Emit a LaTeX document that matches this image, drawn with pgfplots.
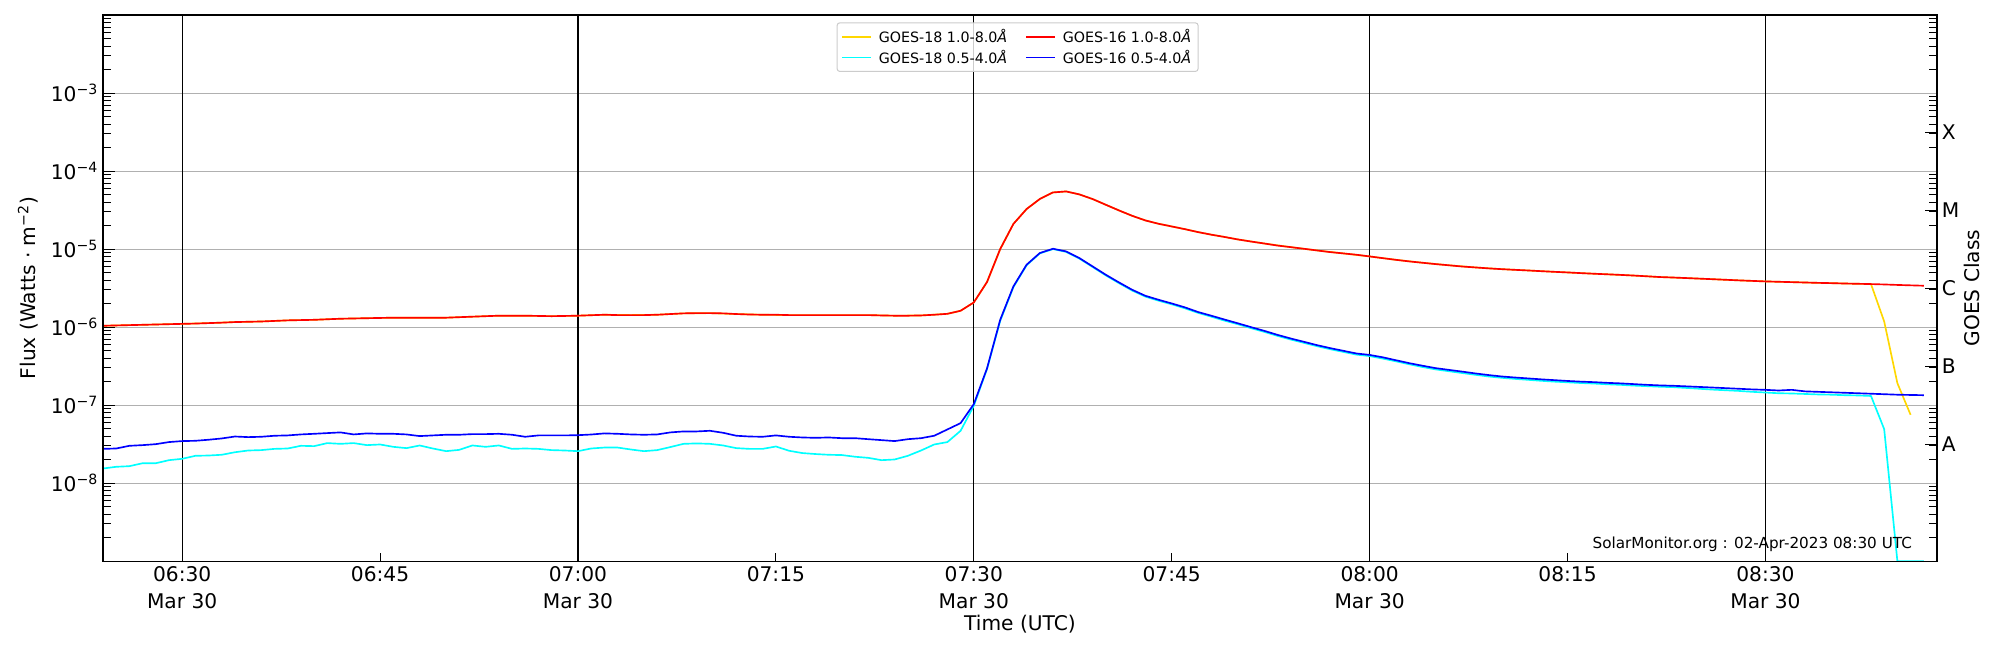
\documentclass[border=0pt]{standalone}
\usepackage{fontspec}
\setmainfont{DejaVu Sans}
\usepackage{pgfplots}
\usepackage{pgfplotstable}
\pgfplotsset{compat=1.18}
\definecolor{mplgold}{HTML}{FFD700}
\definecolor{mplcyan}{HTML}{00FFFF}
\definecolor{mplred}{HTML}{FF0000}
\definecolor{mplblue}{HTML}{0000FF}
\definecolor{gridgray}{HTML}{B0B0B0}
\definecolor{legendgray}{HTML}{CCCCCC}

% minutes after 06:00 UTC (30 Mar 2023), flux in W m^-2
\pgfplotstableread{
t f
24 1.04e-6
25 1.05e-6
26 1.06e-6
27 1.07e-6
28 1.08e-6
29 1.09e-6
30 1.10e-6
31 1.11e-6
32 1.125e-6
33 1.14e-6
34 1.16e-6
35 1.17e-6
36 1.18e-6
37 1.20e-6
38 1.22e-6
39 1.23e-6
40 1.24e-6
41 1.26e-6
42 1.28e-6
43 1.29e-6
44 1.30e-6
45 1.31e-6
46 1.32e-6
47 1.32e-6
48 1.32e-6
49 1.32e-6
50 1.32e-6
51 1.34e-6
52 1.36e-6
53 1.38e-6
54 1.40e-6
55 1.40e-6
56 1.40e-6
57 1.39e-6
58 1.38e-6
59 1.39e-6
60 1.40e-6
61 1.42e-6
62 1.44e-6
63 1.425e-6
64 1.425e-6
65 1.425e-6
66 1.44e-6
67 1.47e-6
68 1.50e-6
69 1.51e-6
70 1.51e-6
71 1.50e-6
72 1.47e-6
73 1.45e-6
74 1.44e-6
75 1.44e-6
76 1.425e-6
77 1.425e-6
78 1.425e-6
79 1.425e-6
80 1.425e-6
81 1.425e-6
82 1.425e-6
83 1.41e-6
84 1.40e-6
85 1.40e-6
86 1.41e-6
87 1.44e-6
88 1.48e-6
89 1.62e-6
90 2.07e-6
91 3.78e-6
92 1.00e-5
93 2.10e-5
94 3.26e-5
95 4.38e-5
96 5.32e-5
97 5.48e-5
98 5.02e-5
99 4.38e-5
100 3.70e-5
101 3.13e-5
102 2.67e-5
103 2.33e-5
104 2.11e-5
105 1.95e-5
106 1.80e-5
107 1.65e-5
108 1.53e-5
109 1.43e-5
110 1.33e-5
111 1.25e-5
112 1.18e-5
113 1.11e-5
114 1.06e-5
115 1.01e-5
116 9.61e-6
117 9.15e-6
118 8.80e-6
119 8.46e-6
120 8.05e-6
121 7.65e-6
122 7.28e-6
123 6.95e-6
124 6.68e-6
125 6.42e-6
126 6.20e-6
127 5.98e-6
128 5.82e-6
129 5.66e-6
130 5.53e-6
131 5.42e-6
132 5.32e-6
133 5.21e-6
134 5.11e-6
135 5.02e-6
136 4.92e-6
137 4.83e-6
138 4.75e-6
139 4.67e-6
140 4.58e-6
141 4.48e-6
142 4.38e-6
143 4.32e-6
144 4.25e-6
145 4.18e-6
146 4.11e-6
147 4.04e-6
148 3.97e-6
149 3.91e-6
150 3.85e-6
151 3.81e-6
152 3.77e-6
153 3.73e-6
154 3.69e-6
155 3.66e-6
156 3.62e-6
157 3.59e-6
158 3.56e-6
159 3.52e-6
160 3.47e-6
161 3.43e-6
162 3.39e-6
}\gsixteenlong

\pgfplotstableread{
t f
24 1.04e-6
26 1.06e-6
28 1.08e-6
30 1.10e-6
32 1.125e-6
34 1.16e-6
36 1.18e-6
38 1.22e-6
40 1.24e-6
42 1.28e-6
44 1.30e-6
46 1.32e-6
48 1.32e-6
50 1.32e-6
52 1.36e-6
54 1.40e-6
56 1.40e-6
58 1.38e-6
60 1.40e-6
62 1.44e-6
64 1.425e-6
66 1.44e-6
68 1.50e-6
70 1.51e-6
72 1.47e-6
74 1.44e-6
76 1.425e-6
78 1.425e-6
80 1.425e-6
82 1.425e-6
84 1.40e-6
86 1.41e-6
88 1.48e-6
89 1.62e-6
90 2.07e-6
91 3.78e-6
92 1.00e-5
93 2.10e-5
94 3.26e-5
95 4.38e-5
96 5.32e-5
97 5.48e-5
98 5.02e-5
99 4.38e-5
100 3.70e-5
101 3.13e-5
102 2.67e-5
103 2.33e-5
104 2.11e-5
105 1.95e-5
106 1.80e-5
107 1.65e-5
108 1.53e-5
109 1.43e-5
110 1.33e-5
112 1.18e-5
114 1.06e-5
116 9.61e-6
118 8.80e-6
120 8.05e-6
122 7.28e-6
124 6.68e-6
126 6.20e-6
128 5.82e-6
130 5.53e-6
132 5.32e-6
134 5.11e-6
136 4.92e-6
138 4.75e-6
140 4.58e-6
142 4.38e-6
144 4.25e-6
146 4.11e-6
148 3.97e-6
150 3.85e-6
152 3.77e-6
154 3.69e-6
156 3.62e-6
158 3.56e-6
159 1.18e-6
160 1.91e-7
161 7.52e-8
}\geighteenlong

\pgfplotstableread{
t f
24 2.75e-8
25 2.78e-8
26 3.01e-8
27 3.07e-8
28 3.16e-8
29 3.36e-8
30 3.46e-8
31 3.49e-8
32 3.60e-8
33 3.74e-8
34 3.96e-8
35 3.89e-8
36 3.93e-8
37 4.05e-8
38 4.09e-8
39 4.21e-8
40 4.29e-8
41 4.38e-8
42 4.47e-8
43 4.21e-8
44 4.34e-8
45 4.29e-8
46 4.29e-8
47 4.21e-8
48 4.01e-8
49 4.09e-8
50 4.17e-8
51 4.17e-8
52 4.25e-8
53 4.25e-8
54 4.29e-8
55 4.17e-8
56 3.93e-8
57 4.09e-8
58 4.09e-8
59 4.09e-8
60 4.12e-8
61 4.20e-8
62 4.34e-8
63 4.29e-8
64 4.21e-8
65 4.17e-8
66 4.21e-8
67 4.47e-8
68 4.60e-8
69 4.60e-8
70 4.69e-8
71 4.42e-8
72 4.05e-8
73 3.96e-8
74 3.93e-8
75 4.09e-8
76 3.93e-8
77 3.85e-8
78 3.81e-8
79 3.85e-8
80 3.77e-8
81 3.77e-8
82 3.66e-8
83 3.56e-8
84 3.46e-8
85 3.66e-8
86 3.77e-8
87 4.05e-8
88 4.88e-8
89 5.88e-8
90 1.03e-7
91 2.95e-7
92 1.24e-6
93 3.32e-6
94 6.30e-6
95 8.89e-6
96 1.01e-5
97 9.33e-6
98 7.67e-6
99 6.00e-6
100 4.69e-6
101 3.74e-6
102 3.01e-6
103 2.52e-6
104 2.24e-6
105 2.01e-6
106 1.79e-6
107 1.56e-6
108 1.40e-6
109 1.25e-6
110 1.12e-6
111 1.00e-6
112 8.97e-7
113 7.97e-7
114 7.16e-7
115 6.49e-7
116 5.88e-7
117 5.38e-7
118 4.97e-7
119 4.59e-7
120 4.40e-7
121 4.10e-7
122 3.76e-7
123 3.45e-7
124 3.20e-7
125 2.98e-7
126 2.83e-7
127 2.69e-7
128 2.55e-7
129 2.43e-7
130 2.33e-7
131 2.26e-7
132 2.20e-7
133 2.14e-7
134 2.09e-7
135 2.04e-7
136 2.00e-7
137 1.97e-7
138 1.93e-7
139 1.90e-7
140 1.86e-7
141 1.82e-7
142 1.79e-7
143 1.77e-7
144 1.74e-7
145 1.71e-7
146 1.68e-7
147 1.65e-7
148 1.62e-7
149 1.59e-7
150 1.57e-7
151 1.54e-7
152 1.57e-7
153 1.50e-7
154 1.48e-7
155 1.46e-7
156 1.44e-7
157 1.42e-7
158 1.40e-7
159 1.38e-7
160 1.36e-7
161 1.35e-7
162 1.34e-7
}\gsixteenshort

\pgfplotstableread{
t f
24 1.54e-8
25 1.62e-8
26 1.65e-8
27 1.80e-8
28 1.80e-8
29 1.97e-8
30 2.05e-8
31 2.24e-8
32 2.26e-8
33 2.31e-8
34 2.49e-8
35 2.62e-8
36 2.65e-8
37 2.75e-8
38 2.78e-8
39 3.01e-8
40 2.98e-8
41 3.26e-8
42 3.19e-8
43 3.26e-8
44 3.07e-8
45 3.13e-8
46 2.92e-8
47 2.81e-8
48 3.04e-8
49 2.78e-8
50 2.57e-8
51 2.67e-8
52 3.04e-8
53 2.92e-8
54 3.04e-8
55 2.75e-8
56 2.78e-8
57 2.75e-8
58 2.65e-8
59 2.62e-8
60 2.57e-8
61 2.78e-8
62 2.86e-8
63 2.86e-8
64 2.70e-8
65 2.57e-8
66 2.65e-8
67 2.90e-8
68 3.19e-8
69 3.23e-8
70 3.19e-8
71 3.04e-8
72 2.81e-8
73 2.75e-8
74 2.75e-8
75 2.95e-8
76 2.60e-8
77 2.43e-8
78 2.36e-8
79 2.31e-8
80 2.29e-8
81 2.18e-8
82 2.11e-8
83 1.97e-8
84 2.01e-8
85 2.24e-8
86 2.62e-8
87 3.13e-8
88 3.36e-8
89 4.69e-8
90 9.80e-8
91 2.90e-7
92 1.20e-6
93 3.25e-6
94 6.20e-6
95 8.80e-6
96 1.00e-5
97 9.20e-6
98 7.55e-6
99 5.90e-6
100 4.60e-6
101 3.66e-6
102 2.94e-6
103 2.46e-6
104 2.18e-6
105 1.96e-6
106 1.74e-6
107 1.52e-6
108 1.36e-6
109 1.21e-6
110 1.09e-6
111 9.70e-7
112 8.70e-7
113 7.73e-7
114 6.94e-7
115 6.29e-7
116 5.70e-7
117 5.21e-7
118 4.81e-7
119 4.44e-7
120 4.25e-7
121 3.95e-7
122 3.64e-7
123 3.34e-7
124 3.08e-7
125 2.87e-7
126 2.72e-7
127 2.58e-7
128 2.45e-7
129 2.33e-7
130 2.24e-7
131 2.17e-7
132 2.11e-7
133 2.05e-7
134 2.00e-7
135 1.96e-7
136 1.92e-7
137 1.89e-7
138 1.85e-7
139 1.82e-7
140 1.78e-7
141 1.75e-7
142 1.72e-7
143 1.70e-7
144 1.66e-7
145 1.62e-7
146 1.58e-7
147 1.55e-7
148 1.52e-7
149 1.48e-7
150 1.45e-7
151 1.42e-7
152 1.41e-7
153 1.39e-7
154 1.37e-7
155 1.36e-7
156 1.34e-7
157 1.33e-7
158 1.31e-7
159 4.92e-8
160 1e-9
161 1e-9
162 1e-9
}\geighteenshort

\pgfplotsset{
  common/.style={
    scale only axis, width=1325.4pt, height=394.7pt,
    at={(0pt,0pt)}, anchor=south west,
    xmin=24, xmax=163, ymin=1e-9, ymax=1e-2,
    axis line style={black, line width=0.85pt},
    tick style={black, line width=0.75pt},
    tick label style={font=\fontsize{14.6}{20}\selectfont},
    label style={font=\fontsize{14.6}{20}\selectfont},
  },
  logminors/.style={
    minor ytick={2e-9,3e-9,4e-9,5e-9,6e-9,7e-9,8e-9,9e-9,
      2e-8,3e-8,4e-8,5e-8,6e-8,7e-8,8e-8,9e-8,
      2e-7,3e-7,4e-7,5e-7,6e-7,7e-7,8e-7,9e-7,
      2e-6,3e-6,4e-6,5e-6,6e-6,7e-6,8e-6,9e-6,
      2e-5,3e-5,4e-5,5e-5,6e-5,7e-5,8e-5,9e-5,
      2e-4,3e-4,4e-4,5e-4,6e-4,7e-4,8e-4,9e-4,
      2e-3,3e-3,4e-3,5e-3,6e-3,7e-3,8e-3,9e-3}
  }
}

\begin{document}
\begin{tikzpicture}
\useasboundingbox (-74.44pt,-64.18pt) rectangle (1370.96pt,405.54pt);

% left flux axis with horizontal grid
\begin{axis}[ymode=log, common, logminors,
  xtick=\empty,
  ytick={1e-8,1e-7,1e-6,1e-5,1e-4,1e-3},
  yticklabels={10\textsuperscript{−8},10\textsuperscript{−7},10\textsuperscript{−6},10\textsuperscript{−5},10\textsuperscript{−4},10\textsuperscript{−3}},
  ytick pos=left,
  ymajorgrids,
  major grid style={gridgray, line width=0.75pt},
  major tick length=8.5pt, minor tick length=5.6pt,
  ylabel={Flux (Watts · m\textsuperscript{−2})},
  ylabel style={at={(axis description cs:-0.0409,0.5)}, anchor=center},
]
\end{axis}

% time axis with the curves
\begin{axis}[ymode=log, common,
  ytick=\empty,
  xtick={45,75,105,135},
  xticklabels={06:45,07:15,07:45,08:15},
  extra x ticks={30,60,90,120,150},
  extra x tick labels={{06:30\\Mar 30},{07:00\\Mar 30},{07:30\\Mar 30},{08:00\\Mar 30},{08:30\\Mar 30}},
  extra x tick style={grid=major, major grid style={black, line width=0.75pt}},
  xticklabel style={align=center},
  xtick pos=bottom,
  major tick length=5.6pt,
  xlabel={Time (UTC)},
  xlabel style={at={(axis description cs:0.5,-0.115)}, anchor=center},
  legend columns=2,
  legend cell align=left,
  legend image code/.code={\draw[#1] (0pt,0pt) -- (21pt,0pt);},
  legend style={at={(axis description cs:0.4000,0.9866)}, anchor=north west,
    draw=legendgray, line width=0.75pt, rounded corners=2pt,
    fill=white, fill opacity=0.8, text opacity=1,
    font=\fontsize{10.3}{11.5}\selectfont,
    inner xsep=3pt, inner ysep=2.5pt,
    /tikz/every odd column/.append style={column sep=3pt},
    /tikz/every even column/.append style={column sep=11pt}},
]
\addplot[mplgold, line width=1.2pt, line join=round] table[x=t, y=f] {\geighteenlong};
\addlegendentry{GOES-18 1.0-8.0\textit{Å}}
\addplot[mplred, line width=1.2pt, line join=round] table[x=t, y=f] {\gsixteenlong};
\addlegendentry{GOES-16 1.0-8.0\textit{Å}}
\addplot[mplcyan, line width=1.2pt, line join=round] table[x=t, y=f] {\geighteenshort};
\addlegendentry{GOES-18 0.5-4.0\textit{Å}}
\addplot[mplblue, line width=1.2pt, line join=round] table[x=t, y=f] {\gsixteenshort};
\addlegendentry{GOES-16 0.5-4.0\textit{Å}}
\node[anchor=base east, font=\fontsize{11}{13}\selectfont, inner sep=0pt] at (rel axis cs:0.9865,0.0229) {SolarMonitor.org : 02-Apr-2023 08:30 UTC};
\end{axis}

% right GOES class axis
\begin{axis}[ymode=log, common, logminors,
  xtick=\empty,
  ytick={3.1623e-8,3.1623e-7,3.1623e-6,3.1623e-5,3.1623e-4},
  yticklabels={A,B,C,M,X},
  ytick pos=right, yticklabel pos=right,
  major tick length=8.5pt, minor tick length=5.6pt,
  ylabel={GOES Class},
  ylabel style={at={(axis description cs:1.0189,0.5)}, anchor=center},
]
\end{axis}
\end{tikzpicture}
\end{document}
